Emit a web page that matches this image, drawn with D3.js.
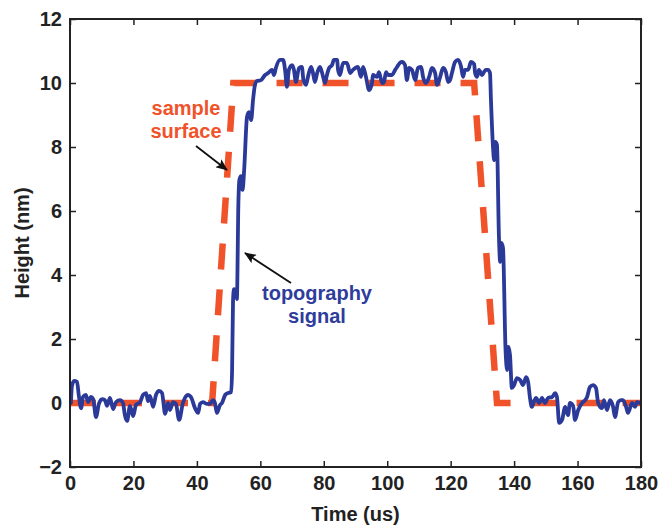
<!DOCTYPE html>
<html>
<head>
<meta charset="utf-8">
<script src="https://cdn.jsdelivr.net/npm/d3@7"></script>
<style>
  html, body { margin: 0; padding: 0; background: #fff; }
  svg { display: block; }
  text { font-family: "Liberation Sans", Arial, Helvetica, sans-serif; font-weight: bold; }
</style>
</head>
<body>
<svg id="chart" width="660" height="525"></svg>
<script>
// ---- data ----
const xTicks = [0, 20, 40, 60, 80, 100, 120, 140, 160, 180];
const yTicks = [-2, 0, 2, 4, 6, 8, 10, 12];

const surfaceTime   = [0, 44.8, 51.5, 127.4, 134.6, 180];
const surfaceHeight = [0, 0, 10, 10, 0, 0];

const signalTime = [
  0.3, 0.6, 1.3, 2.2, 2.8, 3.5, 4.1, 5.0, 5.7, 6.6, 7.3, 8.2, 9.1, 10.1, 11.0, 11.7, 12.6, 13.6, 14.5, 15.8,
  16.7, 17.3, 18.0, 18.9, 19.9, 20.8, 22.1, 23.0, 24.0, 24.6, 25.2, 26.2, 27.1, 28.1, 29.0, 30.0, 30.9,
  31.5, 32.5, 33.4, 34.4, 35.6, 37.2, 38.1, 39.4, 40.4, 41.0, 41.9, 43.2, 44.1, 45.1, 45.7, 46.3, 47.3,
  47.9, 48.9, 49.8, 50.8,
  51.1, 51.4, 51.7, 52.3, 52.6, 53.1, 53.4, 53.9, 54.4, 54.9, 55.8, 56.4, 57.1, 57.7, 58.3, 58.9,
  60.2, 61.5, 62.4, 63.7, 64.3, 64.9, 66.2, 67.2, 67.8, 68.4, 69.0, 70.0, 70.6, 71.2, 72.2, 73.1, 73.6,
  74.4, 75.0, 76.0, 76.6, 77.2, 77.9, 78.8, 79.8, 80.4, 81.0, 81.7, 82.6, 83.2, 84.2, 84.5,
  85.1, 86.1, 87.3, 88.3, 89.2, 90.8, 91.7, 92.4, 93.3, 94.3, 95.2, 95.5, 96.8, 97.4, 98.4, 99.0, 99.6,
  100.3, 101.5, 102.5, 103.1, 104.0, 104.7, 105.6, 106.2, 106.9, 107.8, 108.8, 109.7, 110.7, 111.3,
  112.2, 113.2, 114.1, 115.1, 115.7, 116.6, 117.6, 118.5, 119.2,
  119.8, 120.4, 121.4, 122.3, 123.3, 123.9, 124.5, 125.5, 126.4, 127.4, 127.7, 128.3, 128.9, 129.9,
  130.5, 131.1, 131.8, 132.4,
  132.7, 133.4, 133.7, 134.1, 134.6, 135.2, 135.6, 136.0, 136.5, 137.3, 137.8, 138.2, 138.7, 139.3,
  140.0, 140.9, 141.9, 142.8, 143.8, 144.4, 145.0, 145.6, 146.3, 146.9, 147.9, 148.8, 149.7, 150.7,
  152.0, 152.9, 153.5, 154.2, 155.1, 156.1, 157.0, 157.6, 158.6, 159.2, 160.2, 161.4, 162.4, 163.0,
  163.9, 164.9, 165.8, 166.5, 167.7, 168.3, 169.3, 170.2, 171.2, 171.8, 172.8, 173.7, 174.3, 175.3,
  175.9, 177.2, 178.1, 178.7, 179.7
];
const signalHeight = [
  0.0, 0.53, 0.69, 0.66, 0.22, -0.16, 0.19, 0.25, 0.03, 0.19, 0.12, -0.44, -0.03, 0.12, 0.09, -0.09, 0.16, -0.19, 0.03, 0.09,
  0.0, -0.38, -0.56, -0.09, -0.41, -0.06, 0.03, 0.25, 0.31, 0.06, 0.22, -0.12, 0.25, 0.38, 0.31, -0.34, 0.0,
  -0.22, 0.03, -0.03, -0.53, 0.0, 0.25, 0.19, -0.16, -0.31, -0.03, 0.03, -0.03, -0.03, 0.09, 0.0, -0.31, -0.06,
  0.0, 0.25, 0.31, 0.34,
  1.03, 3.22, 3.56, 3.53, 3.25, 6.34, 6.97, 7.09, 6.66, 7.28, 8.94, 9.09, 8.84, 9.47, 9.94, 10.06,
  10.09, 10.25, 10.31, 10.41, 10.25, 10.47, 10.72, 10.72, 10.41, 9.88, 10.41, 10.56, 10.41, 10.03, 10.47, 10.5, 10.09,
  9.94, 10.19, 10.5, 10.31, 10.03, 10.31, 10.5, 10.19, 10.0, 10.25, 10.47, 10.56, 10.72, 10.72, 10.41,
  10.25, 10.63, 10.63, 10.31, 10.41, 10.5, 10.19, 10.5, 10.19, 9.78, 10.0, 10.25, 10.19, 10.34, 10.0, 10.03, 10.34,
  10.25, 10.25, 10.41, 10.5, 10.63, 10.66, 10.56, 10.09, 10.47, 10.41, 10.09, 10.47, 10.5, 10.19,
  10.0, 10.19, 10.47, 10.31, 9.94, 10.16, 10.47, 10.34, 10.03,
  10.09, 10.31, 10.66, 10.72, 10.5, 10.19, 10.41, 10.41, 10.66, 10.59, 10.31, 10.19, 10.41, 10.25,
  10.34, 10.41, 10.41, 10.31,
  9.47, 7.91, 7.59, 8.16, 8.06, 5.25, 4.41, 5.0, 4.84, 1.66, 1.03, 1.75, 1.5, 0.47,
  0.56, 0.78, 0.72, 0.56, 0.81, 0.66, 0.16, -0.12, 0.06, 0.16, 0.0, 0.16, 0.0, 0.16,
  0.19, 0.31, 0.19, -0.62, -0.53, -0.12, -0.38, 0.0, -0.09, -0.53, -0.22, 0.0, 0.09, 0.19,
  0.5, 0.56, 0.47, 0.0, -0.16, 0.09, -0.22, 0.09, -0.12, -0.44, 0.03, 0.09, 0.09, -0.12,
  -0.31, 0.0, -0.12, 0.03, 0.0
];

const xTitle = "Time (us)";
const yTitle = "Height (nm)";
const surfaceLabel = ["sample", "surface"];
const signalLabel = ["topography", "signal"];

// ---- layout ----
const svg = d3.select("#chart");
const L = 70, R = 641, T = 19, B = 467;
const x = d3.scaleLinear().domain([0, 180]).range([L, R]);
const y = d3.scaleLinear().domain([-2, 12]).range([B, T]);

const orange = "#F0522A";
const blue = "#2B3A98";

const defs = svg.append("defs");
defs.append("clipPath").attr("id", "clip")
  .append("rect").attr("x", L).attr("y", T).attr("width", R - L).attr("height", B - T);
defs.append("marker").attr("id", "arrow")
  .attr("viewBox", "0 0 12 10").attr("refX", 11).attr("refY", 5)
  .attr("markerUnits", "userSpaceOnUse")
  .attr("markerWidth", 13).attr("markerHeight", 10).attr("orient", "auto")
  .append("path").attr("d", "M0,0 L12,5 L0,10 L2.5,5 z").attr("fill", "#111");

// axes
const tickLen = 6;
const gB = svg.append("g").attr("transform", `translate(0,${B})`)
  .call(d3.axisBottom(x).tickValues(xTicks).tickSizeInner(-tickLen).tickSizeOuter(0).tickPadding(9));
const gL = svg.append("g").attr("transform", `translate(${L},0)`)
  .call(d3.axisLeft(y).tickValues(yTicks).tickSizeInner(-tickLen).tickSizeOuter(0).tickPadding(8));
const gT = svg.append("g").attr("transform", `translate(0,${T})`)
  .call(d3.axisTop(x).tickValues(xTicks).tickSizeInner(-tickLen).tickSizeOuter(0).tickFormat(""));
const gR = svg.append("g").attr("transform", `translate(${R},0)`)
  .call(d3.axisRight(y).tickValues(yTicks).tickSizeInner(-tickLen).tickSizeOuter(0).tickFormat(""));

[gB, gL, gT, gR].forEach(g => {
  g.select(".domain").remove();
  g.selectAll(".tick line").attr("stroke", "#222").attr("stroke-width", 1.5);
  g.selectAll(".tick text").attr("fill", "#222").style("font-size", "20px").style("font-weight", "bold")
    .style("font-family", '"Liberation Sans", Arial, sans-serif');
});
gL.selectAll(".tick text").text(d => d < 0 ? "\u2212" + Math.abs(d) : d);

// lines
const plot = svg.append("g").attr("clip-path", "url(#clip)");
const surfData = surfaceTime.map((t, i) => [t, surfaceHeight[i]]);
const sigData = signalTime.map((t, i) => [t, signalHeight[i]]);
const line = d3.line().x(d => x(d[0])).y(d => y(d[1]));

plot.append("path").datum(surfData).attr("d", line)
  .attr("fill", "none").attr("stroke", orange).attr("stroke-width", 6.5)
  .attr("stroke-dasharray", "26,20").attr("stroke-linejoin", "miter");

plot.append("path").datum(sigData).attr("d", d3.line().x(d => x(d[0])).y(d => y(d[1])).curve(d3.curveMonotoneX))
  .attr("fill", "none").attr("stroke", blue).attr("stroke-width", 3.8)
  .attr("stroke-linejoin", "round").attr("stroke-linecap", "round");

// box
svg.append("rect").attr("x", L).attr("y", T).attr("width", R - L).attr("height", B - T)
  .attr("fill", "none").attr("stroke", "#222").attr("stroke-width", 2);

// axis titles
svg.append("text").attr("x", (L + R) / 2).attr("y", 521).attr("text-anchor", "middle")
  .attr("fill", "#222").style("font-size", "20px").text(xTitle);
svg.append("text").attr("transform", `translate(29,${(T + B) / 2}) rotate(-90)`).attr("text-anchor", "middle")
  .attr("fill", "#222").style("font-size", "20px").text(yTitle);

// annotations
const ann = svg.append("g");
ann.selectAll("text.s").data(surfaceLabel).enter().append("text")
  .attr("x", 186).attr("y", (d, i) => 115 + i * 23).attr("text-anchor", "middle")
  .attr("fill", orange).style("font-size", "20px").text(d => d);
ann.selectAll("text.t").data(signalLabel).enter().append("text")
  .attr("x", 317).attr("y", (d, i) => 300 + i * 23).attr("text-anchor", "middle")
  .attr("fill", "#2E3C9C").style("font-size", "20px").text(d => d);

ann.append("line").attr("x1", 196).attr("y1", 146).attr("x2", 227).attr("y2", 170)
  .attr("stroke", "#111").attr("stroke-width", 1.8).attr("marker-end", "url(#arrow)");
ann.append("line").attr("x1", 291).attr("y1", 283).attr("x2", 245).attr("y2", 253)
  .attr("stroke", "#111").attr("stroke-width", 1.8).attr("marker-end", "url(#arrow)");
</script>
</body>
</html>
